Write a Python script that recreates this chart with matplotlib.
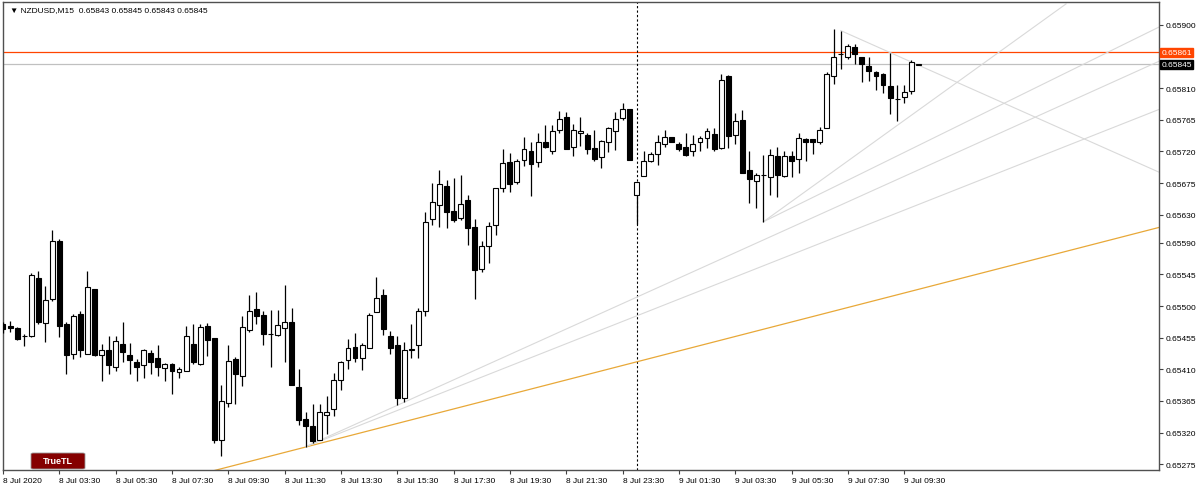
import numpy as np
import matplotlib
matplotlib.use("Agg")
import matplotlib.pyplot as plt
from matplotlib.patches import FancyBboxPatch
from matplotlib.transforms import blended_transform_factory

plt.rcParams["font.family"] = ["Liberation Sans", "DejaVu Sans"]

# NZDUSD M15, first bar 8 Jul 2020 01:30
opens = [0.65475, 0.65472, 0.65469, 0.65457, 0.65458, 0.65540, 0.65476, 0.65510, 0.65593, 0.65475,
         0.65432, 0.65489, 0.65432, 0.65524, 0.65431, 0.65438, 0.65414, 0.65446, 0.65430, 0.65421,
         0.65416, 0.65433, 0.65426, 0.65412, 0.65418, 0.65406, 0.65408, 0.65446, 0.65418, 0.65472,
         0.65454, 0.65309, 0.65362, 0.65425, 0.65401, 0.65466, 0.65496, 0.65488, 0.65461, 0.65459,
         0.65469, 0.65478, 0.65385, 0.65340, 0.65329, 0.65309, 0.65345, 0.65353, 0.65395, 0.65423,
         0.65442, 0.65426, 0.65441, 0.65492, 0.65516, 0.65458, 0.65444, 0.65369, 0.65438, 0.65444,
         0.65493, 0.65624, 0.65644, 0.65671, 0.65636, 0.65626, 0.65651, 0.65612, 0.65553, 0.65586,
         0.65615, 0.65668, 0.65705, 0.65677, 0.65708, 0.65720, 0.65705, 0.65734, 0.65721, 0.65750,
         0.65769, 0.65727, 0.65746, 0.65743, 0.65725, 0.65712, 0.65733, 0.65749, 0.65767, 0.65781,
         0.65658, 0.65685, 0.65707, 0.65716, 0.65731, 0.65741, 0.65731, 0.65727, 0.65721, 0.65733,
         0.65739, 0.65745, 0.65725, 0.65828, 0.65744, 0.65765, 0.65694, 0.65678, 0.65687, 0.65683,
         0.65713, 0.65685, 0.65713, 0.65710, 0.65738, 0.65738, 0.65734, 0.65754, 0.65827, 0.65859,
         0.65854, 0.65868, 0.65854, 0.65841, 0.65833, 0.65830, 0.65813, 0.65795, 0.65797, 0.65806,
         0.65843]
highs = [0.65477, 0.65479, 0.65470, 0.65460, 0.65547, 0.65550, 0.65529, 0.65608, 0.65595, 0.65477,
         0.65489, 0.65493, 0.65550, 0.65524, 0.65446, 0.65457, 0.65457, 0.65478, 0.65447, 0.65425,
         0.65439, 0.65438, 0.65445, 0.65419, 0.65419, 0.65413, 0.65471, 0.65475, 0.65475, 0.65476,
         0.65454, 0.65388, 0.65444, 0.65427, 0.65486, 0.65516, 0.65520, 0.65493, 0.65494, 0.65494,
         0.65530, 0.65497, 0.65410, 0.65350, 0.65360, 0.65361, 0.65372, 0.65405, 0.65422, 0.65453,
         0.65462, 0.65447, 0.65490, 0.65541, 0.65524, 0.65465, 0.65458, 0.65449, 0.65475, 0.65498,
         0.65634, 0.65675, 0.65693, 0.65679, 0.65682, 0.65687, 0.65658, 0.65624, 0.65593, 0.65619,
         0.65668, 0.65723, 0.65718, 0.65709, 0.65740, 0.65733, 0.65746, 0.65758, 0.65758, 0.65778,
         0.65776, 0.65759, 0.65769, 0.65747, 0.65750, 0.65736, 0.65755, 0.65776, 0.65789, 0.65781,
         0.65677, 0.65721, 0.65719, 0.65743, 0.65751, 0.65741, 0.65734, 0.65747, 0.65743, 0.65742,
         0.65754, 0.65753, 0.65830, 0.65829, 0.65775, 0.65779, 0.65720, 0.65689, 0.65715, 0.65724,
         0.65726, 0.65721, 0.65720, 0.65746, 0.65739, 0.65738, 0.65755, 0.65833, 0.65894, 0.65892,
         0.65873, 0.65873, 0.65855, 0.65855, 0.65835, 0.65832, 0.65860, 0.65815, 0.65815, 0.65850,
         0.65845]
lows = [0.65462, 0.65463, 0.65452, 0.65443, 0.65456, 0.65475, 0.65449, 0.65507, 0.65456, 0.65403,
        0.65425, 0.65428, 0.65432, 0.65429, 0.65394, 0.65403, 0.65407, 0.65421, 0.65403, 0.65394,
        0.65397, 0.65404, 0.65401, 0.65394, 0.65375, 0.65397, 0.65408, 0.65418, 0.65416, 0.65429,
        0.65305, 0.65287, 0.65356, 0.65360, 0.65386, 0.65463, 0.65474, 0.65444, 0.65413, 0.65458,
        0.65420, 0.65388, 0.65331, 0.65300, 0.65305, 0.65309, 0.65318, 0.65344, 0.65380, 0.65410,
        0.65420, 0.65409, 0.65441, 0.65491, 0.65459, 0.65432, 0.65359, 0.65364, 0.65426, 0.65426,
        0.65486, 0.65615, 0.65613, 0.65611, 0.65619, 0.65623, 0.65587, 0.65510, 0.65548, 0.65562,
        0.65601, 0.65663, 0.65662, 0.65674, 0.65700, 0.65656, 0.65698, 0.65725, 0.65717, 0.65746,
        0.65724, 0.65714, 0.65728, 0.65717, 0.65707, 0.65696, 0.65719, 0.65722, 0.65765, 0.65708,
        0.65617, 0.65685, 0.65705, 0.65701, 0.65727, 0.65733, 0.65721, 0.65713, 0.65714, 0.65721,
        0.65725, 0.65720, 0.65724, 0.65725, 0.65731, 0.65690, 0.65647, 0.65639, 0.65620, 0.65658,
        0.65655, 0.65683, 0.65683, 0.65689, 0.65706, 0.65716, 0.65731, 0.65754, 0.65816, 0.65837,
        0.65852, 0.65845, 0.65819, 0.65821, 0.65808, 0.65803, 0.65774, 0.65764, 0.65789, 0.65802,
        0.65843]
closes = [0.65467, 0.65469, 0.65453, 0.65458, 0.65544, 0.65478, 0.65509, 0.65593, 0.65472, 0.65431,
          0.65486, 0.65437, 0.65527, 0.65430, 0.65437, 0.65416, 0.65450, 0.65434, 0.65424, 0.65414,
          0.65437, 0.65421, 0.65414, 0.65417, 0.65407, 0.65411, 0.65457, 0.65420, 0.65470, 0.65452,
          0.65309, 0.65365, 0.65422, 0.65403, 0.65470, 0.65493, 0.65486, 0.65460, 0.65461, 0.65473,
          0.65478, 0.65388, 0.65338, 0.65330, 0.65308, 0.65350, 0.65350, 0.65395, 0.65420, 0.65441,
          0.65426, 0.65445, 0.65488, 0.65512, 0.65467, 0.65441, 0.65369, 0.65437, 0.65439, 0.65493,
          0.65619, 0.65648, 0.65674, 0.65634, 0.65622, 0.65645, 0.65611, 0.65551, 0.65585, 0.65614,
          0.65668, 0.65704, 0.65674, 0.65706, 0.65723, 0.65702, 0.65733, 0.65726, 0.65749, 0.65766,
          0.65724, 0.65750, 0.65749, 0.65724, 0.65709, 0.65735, 0.65753, 0.65766, 0.65780, 0.65708,
          0.65677, 0.65707, 0.65717, 0.65733, 0.65740, 0.65734, 0.65723, 0.65715, 0.65730, 0.65739,
          0.65749, 0.65723, 0.65822, 0.65742, 0.65764, 0.65690, 0.65681, 0.65686, 0.65687, 0.65715,
          0.65687, 0.65713, 0.65707, 0.65739, 0.65734, 0.65733, 0.65751, 0.65830, 0.65855, 0.65859,
          0.65870, 0.65859, 0.65845, 0.65834, 0.65827, 0.65815, 0.65796, 0.65795, 0.65805, 0.65847,
          0.65845]

# time axis labels every 8 bars
tick_bars = [0, 8, 16, 24, 32, 40, 48, 56, 64, 72, 80, 88, 96, 104, 112, 120, 128]
tick_labels = ["8 Jul 2020", "8 Jul 03:30", "8 Jul 05:30", "8 Jul 07:30", "8 Jul 09:30",
               "8 Jul 11:30", "8 Jul 13:30", "8 Jul 15:30", "8 Jul 17:30", "8 Jul 19:30",
               "8 Jul 21:30", "8 Jul 23:30", "9 Jul 01:30", "9 Jul 03:30", "9 Jul 05:30",
               "9 Jul 07:30", "9 Jul 09:30"]
price_ticks = [0.65900, 0.65810, 0.65765, 0.65720, 0.65675, 0.65630, 0.65590, 0.65545,
               0.65500, 0.65455, 0.65410, 0.65365, 0.65320, 0.65275]

ask_price = 0.65861
bid_price = 0.65845
day_sep_bar = 90

# trend lines: (bar, price) anchor pairs
orange_tl = ([30, 165], [0.65266, 0.65614])
gray_tls = [
    ([119, 165], [0.65892, 0.65687]),
    ([43, 165], [0.65300, 0.65783]),
    ([43, 165], [0.65300, 0.65852]),
    ([108, 165], [0.65620, 0.65901]),
    ([108, 151], [0.65620, 0.65930]),
]

fig = plt.figure(figsize=(12, 4.89), dpi=100)
ax = fig.add_axes([3 / 1200, 18 / 489, 1156 / 1200, 468 / 489])

x = np.arange(len(opens))
o = np.array(opens)
h = np.array(highs)
l = np.array(lows)
c = np.array(closes)
up = c >= o

ax.axhline(bid_price, color="#c0c0c0", lw=0.9, zorder=1)
ax.axhline(ask_price, color="#ff4500", lw=0.9, zorder=1)
ax.axvline(day_sep_bar, color="black", lw=0.8, ls=(0, (2, 2)), zorder=1)

ax.plot(*orange_tl, color="#e8a838", lw=0.9, zorder=2)
for xs, ys in gray_tls:
    ax.plot(xs, ys, color="#d9d9d9", lw=0.8, zorder=2)

ax.vlines(x, l, h, color="black", lw=0.9, zorder=3)
ax.bar(x[up], c[up] - o[up], bottom=o[up], width=0.7, facecolor="white",
       edgecolor="black", lw=0.8, zorder=4)
ax.bar(x[~up], o[~up] - c[~up], bottom=c[~up], width=0.7, facecolor="black",
       edgecolor="black", lw=0.8, zorder=4)

ax.set_xlim(0, 164.2)
ax.set_ylim(0.652668, 0.659327)

ax.set_xticks(tick_bars)
ax.set_xticklabels(tick_labels, fontsize=6, ha="left")
ax.yaxis.tick_right()
ax.set_yticks(price_ticks)
ax.set_yticklabels([f"{p:.5f}" for p in price_ticks], fontsize=6)
ax.tick_params(axis="both", length=3, width=0.8, color="#404040", pad=2)
for s in ax.spines.values():
    s.set_color("#505050")
    s.set_linewidth(1)

# price labels on the right scale
tr = blended_transform_factory(ax.transAxes, ax.transData)
ax.text(1.002, ask_price, f"{ask_price:.5f}", transform=tr, fontsize=6, color="white",
        va="center", ha="left", bbox=dict(boxstyle="square,pad=0.15", fc="#ff4500", ec="#ff4500"))
ax.text(1.002, bid_price - 0.00001, f"{bid_price:.5f}", transform=tr, fontsize=6, color="white",
        va="center", ha="left", bbox=dict(boxstyle="square,pad=0.15", fc="black", ec="black"))

fig.text(10 / 1200, 1 - 11 / 489, "\u25bc NZDUSD,M15  0.65843 0.65845 0.65843 0.65845",
         fontsize=6, va="center", ha="left")

btn = FancyBboxPatch((31 / 1200, 1 - 470 / 489), 54 / 1200, 16 / 489,
                     boxstyle="round,pad=0,rounding_size=0.002", transform=fig.transFigure,
                     fc="#850000", ec="#999999", lw=0.6)
fig.patches.append(btn)
fig.text(58 / 1200, 1 - 462 / 489, "TrueTL", fontsize=6.5, color="white", fontweight="bold",
         ha="center", va="center")

fig.savefig("out.png", dpi=100)
